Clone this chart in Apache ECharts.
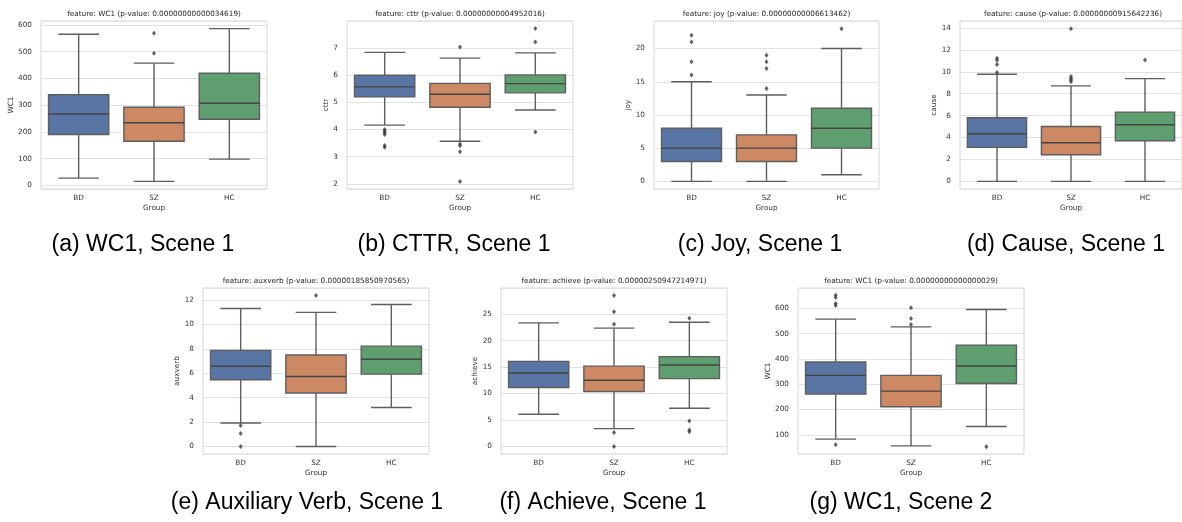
<!DOCTYPE html>
<html><head><meta charset="utf-8">
<script src="https://cdn.jsdelivr.net/npm/echarts@6/dist/echarts.min.js"></script>
<style>html,body{margin:0;padding:0;background:#fff}#c{width:1182px;height:522px}</style>
</head><body><div id="c"></div>
<script>
// ---------- DATA ----------
const groups = ['BD', 'SZ', 'HC'];

// [lower whisker, Q1, median, Q3, upper whisker] per group
const statsWC1S1 = [[27, 190, 267, 339, 565], [15, 165, 234, 292, 457], [98, 247, 307, 419, 586]];
const outWC1S1 = [[1, 569], [1, 494]];

const statsCTTR = [[4.16, 5.20, 5.57, 6.00, 6.84], [3.57, 4.82, 5.30, 5.70, 6.63], [4.72, 5.35, 5.69, 6.01, 6.82]];
const outCTTR = [[0, 4.0], [0, 3.94], [0, 3.88], [0, 3.82], [0, 3.41], [0, 3.35],
                 [1, 7.04], [1, 3.47], [1, 3.40], [1, 3.18], [1, 2.09],
                 [2, 7.72], [2, 7.22], [2, 3.91]];

const statsJoy = [[0, 3, 5, 8, 15], [0, 3, 5, 7, 13], [1, 5, 8, 11, 20]];
const outJoy = [[0, 22], [0, 21], [0, 18], [0, 16], [1, 19], [1, 18], [1, 17], [1, 14], [2, 23]];

const statsCause = [[0, 3.1, 4.34, 5.8, 9.78], [0, 2.43, 3.52, 5.0, 8.72], [0, 3.7, 5.16, 6.32, 9.38]];
const outCause = [[0, 11.24], [0, 11.05], [0, 10.66], [0, 9.93],
                  [1, 13.94], [1, 9.57], [1, 9.4], [1, 9.26], [1, 9.1], [2, 11.08]];

const statsAux = [[1.92, 5.47, 6.58, 7.88, 11.32], [0, 4.39, 5.74, 7.5, 11.0], [3.2, 5.93, 7.15, 8.23, 11.65]];
const outAux = [[0, 1.71], [0, 1.06], [0, 0], [1, 12.38]];

const statsAch = [[6.1, 11.16, 13.9, 16.1, 23.38], [3.37, 10.41, 12.53, 15.2, 22.38], [7.23, 12.84, 15.4, 17.0, 23.5]];
const outAch = [[1, 28.55], [1, 25.5], [1, 23.1], [1, 2.62], [1, 0],
                [2, 24.25], [2, 4.8], [2, 3.1], [2, 2.8]];

const statsWC1S2 = [[83, 261, 335, 388, 558], [56, 211, 273, 335, 527], [133, 303, 372, 455, 596]];
const outWC1S2 = [[0, 652], [0, 643], [0, 620], [0, 612], [0, 61],
                  [1, 603], [1, 560], [1, 537], [2, 53]];

// tick labels shown on each y axis
const ticksWC1S1 = [0, 100, 200, 300, 400, 500, 600];
const ticksCTTR = [2, 3, 4, 5, 6, 7];
const ticksJoy = [0, 5, 10, 15, 20];
const ticksCause = [0, 2, 4, 6, 8, 10, 12, 14];
const ticksAux = [0, 2, 4, 6, 8, 10, 12];
const ticksAch = [0, 5, 10, 15, 20, 25];
const ticksWC1S2 = [100, 200, 300, 400, 500, 600];

const titles = [
  'feature: WC1 (p-value: 0.00000000000034619)',
  'feature: cttr (p-value: 0.00000000004952016)',
  'feature: joy (p-value: 0.00000000006613462)',
  'feature: cause (p-value: 0.00000000915642236)',
  'feature: auxverb (p-value: 0.00000185850970565)',
  'feature: achieve (p-value: 0.00000250947214971)',
  'feature: WC1 (p-value: 0.00000000000000029)'
];
const yNames = ['WC1', 'cttr', 'joy', 'cause', 'auxverb', 'achieve', 'WC1'];
const captions = ['(a) WC1, Scene 1', '(b) CTTR, Scene 1', '(c) Joy, Scene 1', '(d) Cause, Scene 1',
                  '(e) Auxiliary Verb, Scene 1', '(f) Achieve, Scene 1', '(g) WC1, Scene 2'];

const allStats = [statsWC1S1, statsCTTR, statsJoy, statsCause, statsAux, statsAch, statsWC1S2];
const allOut = [outWC1S1, outCTTR, outJoy, outCause, outAux, outAch, outWC1S2];
const allTicks = [ticksWC1S1, ticksCTTR, ticksJoy, ticksCause, ticksAux, ticksAch, ticksWC1S2];

// ---------- AXIS / LAYOUT ----------
const yRange = [[-13.5, 614.5], [1.81, 7.995], [-1.15, 24.15], [-0.7, 14.64], [-0.62, 13.0], [-1.43, 29.98], [24, 681]];
const ySplit = [6, 6, 5, 7, 6, 6, 6];
const layout = [
  {left: 41, top: 21, width: 226, height: 168, yGap: 22},
  {left: 347, top: 21, width: 226, height: 168, yGap: 13},
  {left: 654, top: 21, width: 225, height: 168, yGap: 16},
  {left: 960, top: 21, width: 226, height: 168, yGap: 17},
  {left: 203, top: 288, width: 226, height: 166, yGap: 18},
  {left: 501, top: 288, width: 226, height: 166, yGap: 19},
  {left: 798, top: 288, width: 226, height: 166, yGap: 23}
];
const captionPos = [[143, 245], [454, 245], [760, 245], [1066, 245], [307, 503], [603, 503], [901, 503]];

const boxColors = ['#5975a4', '#cc8963', '#5f9e6e'];
const lineColor = '#5e5e5e';
const FONT = 'DejaVu Sans';
const FS = 7.3;

function renderBox(params, api) {
  const cat = api.value(0);
  const lo = api.value(1), q1 = api.value(2), med = api.value(3), q3 = api.value(4), hi = api.value(5);
  const band = api.size([1, 0])[0];
  const hw = band * 0.4, cw = band * 0.27;
  const x = api.coord([cat, med])[0];
  const y = v => api.coord([cat, v])[1];
  const ls = {stroke: lineColor, lineWidth: 1.4};
  return {
    type: 'group',
    children: [
      {type: 'line', shape: {x1: x, y1: y(lo), x2: x, y2: y(q1)}, style: ls},
      {type: 'line', shape: {x1: x, y1: y(q3), x2: x, y2: y(hi)}, style: ls},
      {type: 'line', shape: {x1: x - cw, y1: y(lo), x2: x + cw, y2: y(lo)}, style: ls},
      {type: 'line', shape: {x1: x - cw, y1: y(hi), x2: x + cw, y2: y(hi)}, style: ls},
      {type: 'rect', shape: {x: x - hw, y: y(q3), width: 2 * hw, height: y(q1) - y(q3)},
       style: {fill: boxColors[cat], stroke: lineColor, lineWidth: 1.4}},
      {type: 'line', shape: {x1: x - hw, y1: y(med), x2: x + hw, y2: y(med)}, style: {stroke: '#444', lineWidth: 1.4}}
    ]
  };
}

const grid = [], xAxis = [], yAxis = [], series = [], graphic = [];
layout.forEach((L, i) => {
  grid.push({left: L.left, top: L.top, width: L.width, height: L.height, show: true,
             borderColor: '#d6d6d6', borderWidth: 1, backgroundColor: 'transparent'});
  xAxis.push({type: 'category', gridIndex: i, data: groups, boundaryGap: true,
    axisLine: {show: false}, axisTick: {show: false}, splitLine: {show: false},
    axisLabel: {fontFamily: FONT, fontSize: FS, color: '#333', margin: 6},
    name: 'Group', nameLocation: 'middle', nameGap: 16,
    nameTextStyle: {fontFamily: FONT, fontSize: FS, color: '#333'}});
  const tk = allTicks[i];
  yAxis.push({type: 'value', gridIndex: i, min: yRange[i][0], max: yRange[i][1], splitNumber: ySplit[i],
    axisLine: {show: false}, axisTick: {show: false},
    splitLine: {show: true, lineStyle: {color: '#e2e2e2', width: 1.2}},
    axisLabel: {fontFamily: FONT, fontSize: FS, color: '#333', margin: 9,
      formatter: v => tk.some(t => Math.abs(t - v) < 1e-6) ? String(Math.round(v)) : ''},
    name: yNames[i], nameLocation: 'middle', nameGap: L.yGap,
    nameTextStyle: {fontFamily: FONT, fontSize: FS, color: '#333'}});
  series.push({type: 'custom', xAxisIndex: i, yAxisIndex: i, renderItem: renderBox,
    encode: {x: 0, y: [1, 2, 3, 4, 5]},
    data: allStats[i].map((s, k) => [k].concat(s)), z: 2, silent: true});
  series.push({type: 'scatter', xAxisIndex: i, yAxisIndex: i, symbol: 'diamond', symbolSize: [4, 5],
    itemStyle: {color: '#3a3a3a'}, data: allOut[i], z: 3, silent: true});
  graphic.push({type: 'text', x: L.left + L.width / 2, y: L.top - 7,
    style: {text: titles[i], font: FS + 'px "' + FONT + '"', fill: '#262626', textAlign: 'center', textVerticalAlign: 'middle'}});
  graphic.push({type: 'text', x: captionPos[i][0], y: captionPos[i][1],
    style: {text: captions[i], font: '23px "Liberation Sans"', fill: '#000', textAlign: 'center', textVerticalAlign: 'middle'}});
});

const chart = echarts.init(document.getElementById('c'), null, {renderer: 'canvas'});
chart.setOption({animation: false, backgroundColor: '#fff', grid, xAxis, yAxis, series, graphic});
</script></body></html>
